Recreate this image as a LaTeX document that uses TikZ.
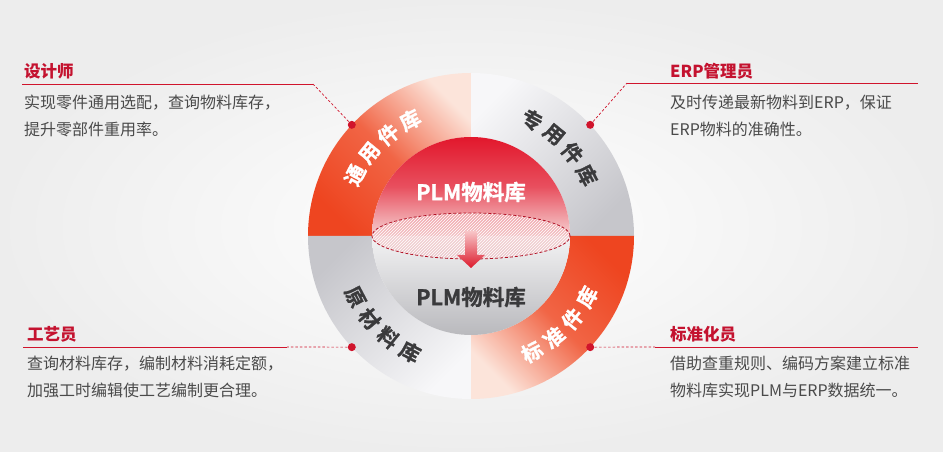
\documentclass[tikz,border=0pt]{standalone}
\usepackage{fontspec}
\setmainfont{Noto Sans CJK SC}
\newfontfamily\heavycjk[UprightFont=* Bold, FakeBold=1.2]{Noto Sans CJK SC}
\usetikzlibrary{patterns,calc}
\definecolor{crim}{HTML}{C4122F}
\definecolor{leadred}{HTML}{D0142C}
\definecolor{bodygray}{HTML}{4A4A4A}
\definecolor{ringgray}{HTML}{3A3A3C}
\definecolor{orDeep}{HTML}{EE4520}
\definecolor{orLight}{HTML}{FCE4DA}
\definecolor{gyLight}{HTML}{F7F7F9}
\definecolor{gyDark}{HTML}{C6C6CB}
\definecolor{redTop}{HTML}{E2172C}
\definecolor{redMid}{HTML}{F6D2D3}
\definecolor{inTop}{HTML}{F3F3F4}
\definecolor{inBot}{HTML}{B9B9BD}
\definecolor{hatch}{HTML}{F2B4B8}
\definecolor{arrTop}{HTML}{F8C6C8}
\definecolor{arrBot}{HTML}{DC1A2C}
\begin{document}
\begin{tikzpicture}[x=1pt,y=1pt,
  title/.style={font=\fontsize{16.5}{18}\selectfont\bfseries, text=crim, anchor=base west, inner sep=0pt},
  body/.style={font=\fontsize{16}{18}\selectfont, text=bodygray, anchor=base west, inner sep=0pt},
  ringw/.style={font=\fontsize{20.5}{22}\selectfont\heavycjk, text=white, inner sep=0pt},
  ringd/.style={ringw, text=ringgray},
  centw/.style={font=\fontsize{21.5}{24}\selectfont\heavycjk, text=white, inner sep=0pt},
  centd/.style={centw, text=ringgray},
  lead/.style={draw=leadred, line width=0.9pt},
  leaddash/.style={draw=leadred, line width=0.7pt, dash pattern=on 2.5pt off 2pt},
  dotst/.style={circle, fill=leadred, inner sep=0pt, minimum size=8pt},
]
\useasboundingbox (0,0) rectangle (943,452);
\shade[inner color=white, outer color=black!7] (0,0) rectangle (943,452);
\coordinate (C) at (471,216);
% ring quadrants
\shade[top color=orLight, bottom color=orDeep, middle color=orDeep!80!orLight, shading angle=-45]
  ([shift={(90:163)}]C) arc[start angle=90,end angle=180,radius=163]
  -- ([shift={(180:99)}]C) arc[start angle=180,end angle=90,radius=99] -- cycle;
\shade[top color=gyLight, bottom color=gyDark, shading angle=45]
  ([shift={(0:163)}]C) arc[start angle=0,end angle=90,radius=163]
  -- ([shift={(90:99)}]C) arc[start angle=90,end angle=0,radius=99] -- cycle;
\shade[top color=gyDark, bottom color=gyLight, shading angle=45]
  ([shift={(180:163)}]C) arc[start angle=180,end angle=270,radius=163]
  -- ([shift={(270:99)}]C) arc[start angle=270,end angle=180,radius=99] -- cycle;
\shade[top color=orDeep, bottom color=orLight, middle color=orDeep!80!orLight, shading angle=-45]
  ([shift={(270:163)}]C) arc[start angle=270,end angle=360,radius=163]
  -- ([shift={(0:99)}]C) arc[start angle=360,end angle=270,radius=99] -- cycle;
% inner circle
\shade[top color=redTop, bottom color=redMid, middle color=redTop!70!redMid]
  ([shift={(0:99)}]C) arc[start angle=0,end angle=180,radius=99] -- cycle;
\shade[top color=inTop, bottom color=inBot]
  ([shift={(180:99)}]C) arc[start angle=180,end angle=360,radius=99] -- cycle;
% hatched ellipse
\fill[hatch, fill opacity=0.55] (C) ellipse[x radius=99, y radius=23];
\fill[pattern=north east lines, pattern color=white] (C) ellipse[x radius=99, y radius=23];
\draw[leadred!85!black, line width=0.8pt, dash pattern=on 3pt off 2pt] (C) ellipse[x radius=99, y radius=23];
% arrow
\shade[top color=arrTop, bottom color=arrBot]
  (465,221) -- (477,221) -- (477,197) -- (485,197) -- (471,184) -- (457,197) -- (465,197) -- cycle;
% centre texts
\node[centw] (plmtop) at (471,260) {PLM物料库};
\node[centd] (plmbot) at (471,155) {PLM物料库};
% ring labels
\foreach \ch [count=\i] in {通,用,件,库} {
  \pgfmathsetmacro\ang{135+17.25-11.5*(\i-1)}
  \node[ringw, rotate=\ang-90] (tl\i) at ([shift={(\ang:131)}]C) {\ch};
}
\foreach \ch [count=\i] in {专,用,件,库} {
  \pgfmathsetmacro\ang{45+17.25-11.5*(\i-1)}
  \node[ringd, rotate=\ang-90] (tr\i) at ([shift={(\ang:131)}]C) {\ch};
}
\foreach \ch [count=\i] in {原,材,料,库} {
  \pgfmathsetmacro\ang{225-17.25+11.5*(\i-1)}
  \node[ringd, rotate=\ang+90] (bl\i) at ([shift={(\ang:131)}]C) {\ch};
}
\foreach \ch [count=\i] in {标,准,件,库} {
  \pgfmathsetmacro\ang{315-17.25+11.5*(\i-1)}
  \node[ringw, rotate=\ang+90] (br\i) at ([shift={(\ang:131)}]C) {\ch};
}
% dots
\node[dotst] (d1) at ([shift={(137:163)}]C) {};
\node[dotst] (d2) at ([shift={(43:163)}]C) {};
\node[dotst] (d3) at ([shift={(223:163)}]C) {};
\node[dotst] (d4) at ([shift={(317:163)}]C) {};
% leaders
\coordinate (k1) at (313,368);
\coordinate (e1) at (22,368);
\coordinate (k2) at (627,369);
\coordinate (e2) at (918,369);
\coordinate (k3) at (287,105);
\coordinate (e3) at (23,105);
\coordinate (k4) at (655,105);
\coordinate (e4) at (918,105);
\draw[leaddash] (d1.center) -- (k1);
\draw[lead] (k1) -- (e1);
\draw[leaddash] (d2.center) -- (k2);
\draw[lead] (k2) -- (e2);
\draw[leaddash] (d3.center) -- (k3);
\draw[lead] (k3) -- (e3);
\draw[leaddash] (d4.center) -- (k4);
\draw[lead] (k4) -- (e4);
% texts
\node[title] (t1) at (24,374) {设计师};
\node[body] (b1a) at (24,343) {实现零件通用选配，查询物料库存，};
\node[body] (b1b) at (24,316) {提升零部件重用率。};
\node[title] (t2) at (670,374) {ERP管理员};
\node[body] (b2a) at (670,343) {及时传递最新物料到ERP，保证};
\node[body] (b2b) at (670,316) {ERP物料的准确性。};
\node[title] (t3) at (27,111) {工艺员};
\node[body] (b3a) at (27,82) {查询材料库存，编制材料消耗定额，};
\node[body] (b3b) at (27,55.5) {加强工时编辑使工艺编制更合理。};
\node[title] (t4) at (670,111) {标准化员};
\node[body] (b4a) at (670,82) {借助查重规则、编码方案建立标准};
\node[body] (b4b) at (670,55.5) {物料库实现PLM与ERP数据统一。};
\end{tikzpicture}
\end{document}
